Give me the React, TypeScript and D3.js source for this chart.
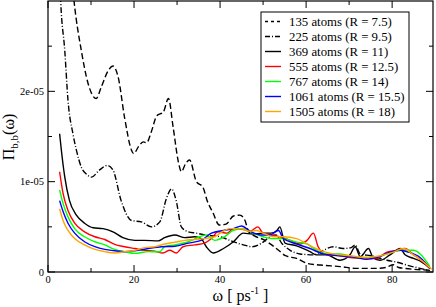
import React from "react";
import * as d3 from "d3";

type P = [number, number];

const dashed135: P[] = [[2.7,52],[4.3,40],[6.05,30],[7.75,24.5],[9.3,20.9],[11.2,19.2],[12.4,20.5],[14,22.3],[15.1,22.8],[16.3,21.6],[17.8,17.1],[19.4,13.5],[19.9,13.1],[21.2,14.0],[22.2,14.4],[22.9,14.3],[24,15.5],[25.3,17.3],[26.8,17.7],[28.0,19.2],[29.1,16.0],[30.3,12.2],[31.0,11.1],[32.0,12.0],[32.9,12.4],[34.5,10.0],[36.0,9.4],[37.0,7.9],[38.4,6.5],[39.8,5.2],[41.4,5.3],[43.1,6.2],[44.6,6.3],[45.8,5.7],[46.6,4.5],[48,4.0],[50,3.6],[52,3.0],[53.6,2.4],[55.2,1.8],[57.8,1.5],[60.2,0.96],[63.3,0.77],[67.9,0.6],[71.8,0.4],[76,0.4],[78.5,0.5],[80.3,0.8],[81.5,0.5],[83,0.4],[88.7,0.2]];
const dashdot225: P[] = [[2.7,33],[2.95,30],[3.9,24.5],[4.65,19],[5.8,15.3],[6.6,13.5],[7.75,11.6],[9.0,10.8],[10.1,10.5],[12,11.3],[13.8,11.8],[15.1,11.3],[17,7.9],[19.4,5.7],[21.7,5.55],[24,5.0],[26,5.55],[27.5,8.1],[28.7,9.2],[29.8,7.9],[31,5.0],[32.6,4.45],[34.5,4.3],[36.4,4.1],[40,3.9],[43.1,3.35],[45.4,3.0],[47.4,2.8],[49.7,3.2],[51.6,3.9],[53,4.1],[54.3,3.2],[56.3,2.4],[58.6,2.0],[61.7,1.9],[64,2.4],[66.3,2.8],[68.6,2.6],[70.5,2.7],[71.4,3.0],[72.6,2.0],[75,1.8],[78.8,1.3],[81,1.1],[83.4,0.77],[86.5,0.4],[88.8,0.15]];
const solid369: P[] = [[2.7,15.3],[3.1,13.5],[3.9,10.5],[5,7.9],[6.6,6.3],[8.5,5.4],[10.5,4.9],[12.8,4.8],[15.1,4.45],[17.4,3.8],[20.2,3.5],[22.4,3.5],[25.6,3.45],[27.1,3.8],[29.5,4.1],[31.8,3.8],[34.1,3.9],[35.6,3.7],[36.8,2.8],[38.4,2.1],[40.8,2.6],[43.1,3.35],[45.4,4.3],[47.5,4.2],[50,4.3],[51.8,4.3],[53.2,4.6],[53.9,5.0],[55.1,3.2],[57.8,2.9],[60.9,2.25],[62.4,1.9],[64.8,1.9],[67.9,1.3],[70.2,1.9],[71.4,2.8],[72.6,1.7],[74.5,2.6],[75.6,1.55],[77.2,1.3],[79.5,1.9],[81.9,2.6],[83,1.9],[85,1.5],[86.9,1.1],[88.8,0.4]];
const red555: P[] = [[2.7,11.1],[3.5,8.7],[4.65,6.8],[6.2,5.4],[8.5,4.45],[10.9,3.9],[13.2,3.6],[15.5,3.05],[17.8,2.8],[20.2,2.6],[22.5,2.4],[24.8,2.3],[26.7,2.1],[28.3,2.4],[29.8,2.1],[31.4,2.8],[34.1,3.0],[36.4,3.2],[38,3.7],[39.5,4.45],[41.6,4.3],[43.1,4.8],[45.4,4.7],[47,4.5],[48.8,5.0],[50,4.3],[51.9,4.1],[53.8,3.9],[56.3,3.5],[58.6,3.1],[60.2,3.5],[61.7,4.3],[62.8,2.8],[64.8,1.9],[67.9,1.8],[70.2,1.6],[74,1.5],[76.4,1.5],[78.8,2.2],[81,2.4],[83,2.6],[85,1.9],[86.5,1.4],[88.8,0.4]];
const green767: P[] = [[2.7,9.1],[3.5,7.6],[4.65,6.1],[6.2,4.8],[8.5,3.9],[10.9,3.35],[13.2,3.0],[15.5,2.5],[17.8,2.25],[20.2,2.06],[23.3,2.25],[26,2.25],[27.1,2.8],[29.5,3.0],[32.6,3.35],[35.3,3.9],[36.8,4.1],[38.8,3.5],[41,3.9],[43.1,4.6],[45.4,4.8],[47.7,4.3],[50,3.9],[52,3.7],[54.7,3.7],[57.8,3.3],[60.2,3.1],[61.7,2.6],[64.8,2.0],[67.9,2.0],[71.8,1.6],[75.6,1.6],[78.8,2.0],[81.9,2.4],[85,2.4],[86.5,2.0],[88.8,0.6]];
const blue1061: P[] = [[2.7,7.9],[3.5,6.7],[4.65,5.4],[6.2,4.3],[8.5,3.35],[10.9,2.8],[13.2,2.5],[15.5,2.35],[17.8,2.25],[20.2,2.35],[23.3,2.6],[26.4,2.8],[29.5,2.85],[32.6,3.2],[35.6,3.5],[38,4.3],[40.8,4.6],[43.1,4.8],[45,5.1],[47,4.5],[49.4,4.1],[51.6,4.1],[53.6,4.6],[54.7,3.7],[57.8,3.1],[60.9,2.6],[64,2.0],[67.9,1.8],[71.8,1.6],[74,1.4],[76.4,1.6],[79.5,2.2],[81.9,2.4],[83.8,2.2],[86.5,1.6],[88.8,0.4]];
const orange1505: P[] = [[2.7,7.0],[3.5,5.7],[4.65,4.6],[6.2,3.7],[8.5,3.0],[10.9,2.5],[13.2,2.25],[15.5,2.1],[17.8,2.25],[20.2,2.4],[22.5,2.7],[24.8,2.8],[27.1,3.1],[29.5,3.3],[31.8,3.5],[34.1,3.6],[36.4,3.7],[38.8,3.9],[40,4.3],[42.3,4.8],[44.65,4.8],[47,4.5],[48.5,4.6],[50,4.3],[52.4,3.9],[54.7,3.9],[57.8,3.7],[60.2,3.1],[63.3,2.4],[66.3,2.0],[70.2,1.8],[74,1.6],[77.2,1.8],[80.3,2.2],[82.6,2.6],[85,1.9],[87.3,1.1],[89.2,0.3]];

const seriesLabels = ["135 atoms (R = 7.5)","225 atoms (R = 9.5)","369 atoms (R = 11)","555 atoms (R = 12.5)","767 atoms (R = 14)","1061 atoms (R = 15.5)","1505 atoms (R = 18)"];
const seriesData = [dashed135, dashdot225, solid369, red555, green767, blue1061, orange1505];
const seriesColors = ["#000","#000","#000","#ff0000","#00ff00","#0000ff","#ffa500"];
const seriesDash = ["6,3","6,2,1,2","","","","",""];

const xMajor = [0, 20, 40, 60, 80];
const xMinor = [10, 30, 50, 70];
const yMajor = [0, 1e-5, 2e-5];
const yMinor = [5e-6, 1.5e-5, 2.5e-5];
const yTickLabels = ["0", "1e-05", "2e-05"];

const FONT = "Liberation Serif";

export default function App() {
  const L = 48, R = 433, T = 1, B = 272;
  const x = d3.scaleLinear().domain([0, 89.5]).range([L, R]);
  const y = d3.scaleLinear().domain([0, 3e-5]).range([B, T]);
  const line = d3.line<P>().x(d => x(d[0])).y(d => y(d[1] * 1e-6)).curve(d3.curveMonotoneX);
  const tf = { fontFamily: FONT };
  return (
    <svg width={436} height={307} style={{ position: "absolute", left: 0, top: 0, background: "#fff" }}>
      <defs>
        <clipPath id="pc"><rect x={L} y={T} width={R - L} height={B - T} /></clipPath>
      </defs>
      <rect x={0} y={0} width={436} height={307} fill="#fff" />
      <g clipPath="url(#pc)">
        {seriesData.map((s, i) => (
          <path key={i} d={line(s) || ""} fill="none" stroke={seriesColors[i]} strokeWidth={1.4} strokeDasharray={seriesDash[i] || undefined} />
        ))}
      </g>
      <rect x={L} y={T} width={R - L} height={B - T} fill="none" stroke="#000" strokeWidth={1.2} />
      {xMajor.map(v => (
        <g key={"xm" + v}>
          <line x1={x(v)} x2={x(v)} y1={B} y2={B - 7} stroke="#000" />
          <line x1={x(v)} x2={x(v)} y1={T} y2={T + 7} stroke="#000" />
          <text x={x(v)} y={B + 11} fontSize={10.5} textAnchor="middle" style={tf}>{v}</text>
        </g>
      ))}
      {xMinor.map(v => (
        <g key={"xn" + v}>
          <line x1={x(v)} x2={x(v)} y1={B} y2={B - 4} stroke="#000" />
          <line x1={x(v)} x2={x(v)} y1={T} y2={T + 4} stroke="#000" />
        </g>
      ))}
      {yMajor.map((v, i) => (
        <g key={"ym" + v}>
          <line x1={L} x2={L + 7} y1={y(v)} y2={y(v)} stroke="#000" />
          <line x1={R} x2={R - 7} y1={y(v)} y2={y(v)} stroke="#000" />
          <text x={44} y={y(v) + 3.5} fontSize={10.5} textAnchor="end" style={tf}>{yTickLabels[i]}</text>
        </g>
      ))}
      {yMinor.map(v => (
        <g key={"yn" + v}>
          <line x1={L} x2={L + 4} y1={y(v)} y2={y(v)} stroke="#000" />
          <line x1={R} x2={R - 4} y1={y(v)} y2={y(v)} stroke="#000" />
        </g>
      ))}
      <text x={(L + R) / 2} y={301} fontSize={16} textAnchor="middle" style={tf}>
        ω [ ps<tspan dy={-7} fontSize={10}>-1</tspan><tspan dy={7}> ]</tspan>
      </text>
      <text transform={`translate(14,${137}) rotate(-90)`} fontSize={16} textAnchor="middle" style={tf}>
        Π<tspan dy={4} fontSize={11}>b,b</tspan><tspan dy={-4}>(ω)</tspan>
      </text>
      <rect x={261} y={12} width={148} height={110} fill="#fff" stroke="#000" strokeWidth={1} />
      {seriesLabels.map((lab, i) => {
        const cy = 21.5 + i * 15;
        return (
          <g key={lab}>
            <line x1={265} x2={281} y1={cy} y2={cy} stroke={seriesColors[i]} strokeWidth={1.4} strokeDasharray={i === 0 ? "3,3" : i === 1 ? "5,2,1,2" : undefined} />
            <text x={289} y={cy + 4.5} fontSize={12.8} style={tf}>{lab}</text>
          </g>
        );
      })}
    </svg>
  );
}
